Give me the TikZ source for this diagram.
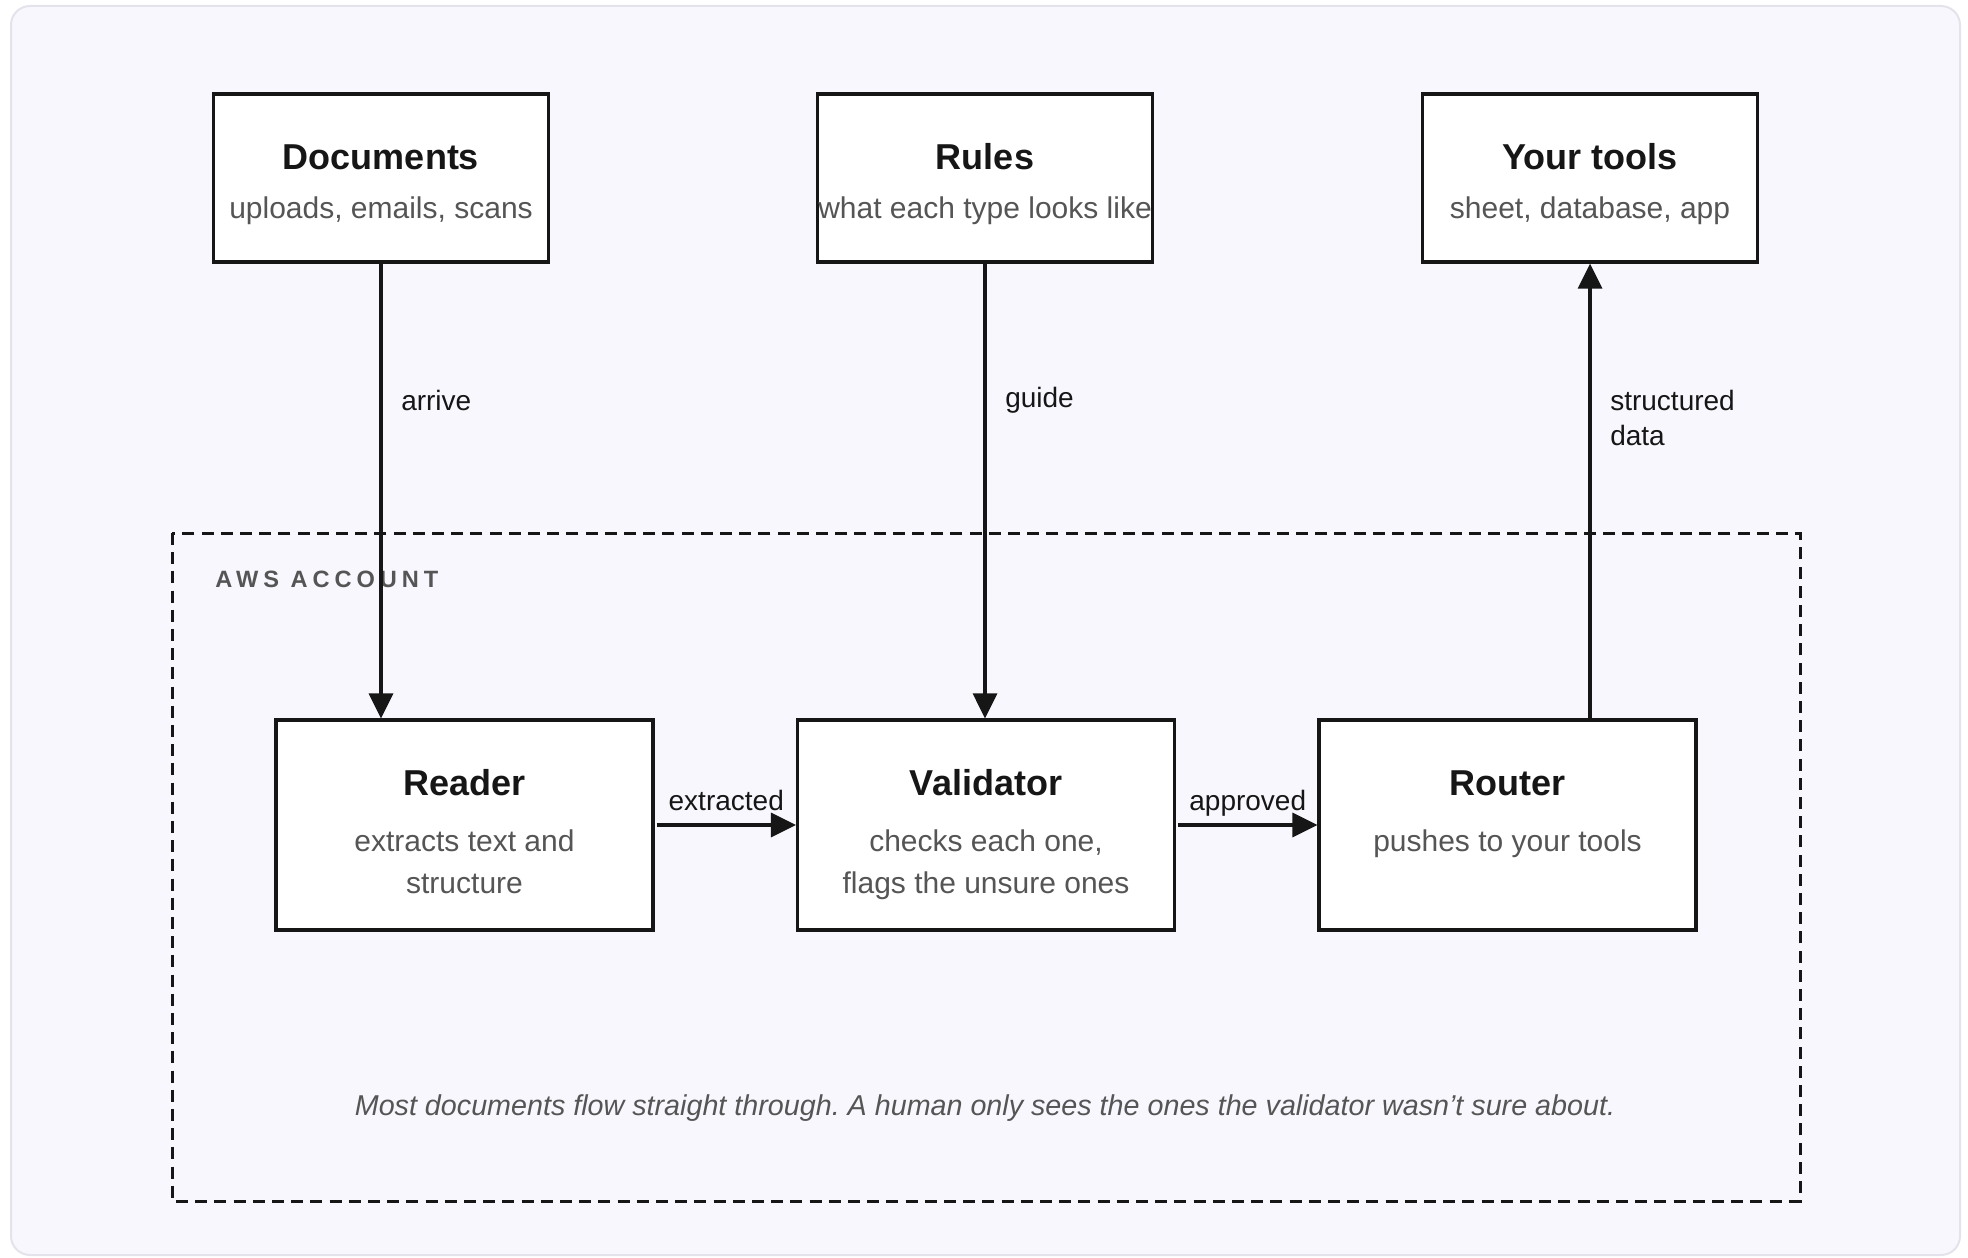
\documentclass[tikz,border=0pt]{standalone}
\usepackage{fontspec}
\setmainfont{Liberation Sans}
\usetikzlibrary{arrows.meta}

\definecolor{panelbg}{HTML}{F8F7FD}
\definecolor{panelrule}{HTML}{E4E3EC}
\definecolor{ink}{HTML}{161616}
\definecolor{subgray}{HTML}{555555}

% title, subtitle lines, gap under the title, strut height of the title line
\newcommand{\cardtext}[4]{{\color{ink}\fontsize{18}{22}\selectfont\bfseries\rule{0pt}{#4}#1}\\[#3]#2\rule[-3.5pt]{0pt}{3.5pt}}

\tikzset{
  card/.style={draw=ink, line width=1.6pt, fill=white, align=center, inner sep=0pt,
    text=subgray, font=\fontsize{15}{21}\selectfont,
    minimum width=167.5pt, minimum height=84pt},
  stage/.style={card, minimum width=188.5pt, minimum height=105pt},
  flow/.style={draw=ink, line width=1.6pt, -{Triangle[length=12.5pt,width=12pt]}},
  elbl/.style={text=ink, font=\fontsize{14}{17.5}\selectfont},
  acct/.style={draw=ink, line width=1.5pt, dash pattern=on 6pt off 3.6pt},
}

\begin{document}
\begin{tikzpicture}[x=0.5pt, y=-0.5pt]
  \useasboundingbox (0,0) rectangle (1968,1257);
  \draw[draw=panelrule, fill=panelbg, line width=1pt, rounded corners=9.5pt] (11,6) rectangle (1960,1255);

  % account frame
  \draw[acct] (172,533) rectangle (1800,1201);
  \node[anchor=west, inner sep=0pt, text=subgray, font=\fontsize{11.8}{13}\selectfont\bfseries\addfontfeatures{LetterSpace=21}] (awslbl) at (215,579) {AWS ACCOUNT};

  % outside
  \node[card] (docs) at (381,178) {\cardtext{Documents}{uploads, emails, scans}{3.5pt}{19.4pt}};
  \node[card] (rules) at (985,178) {\cardtext{Rules}{what each type looks like}{3.5pt}{19.4pt}};
  \node[card] (tools) at (1590,178) {\cardtext{Your tools}{sheet, database, app}{3.5pt}{19.4pt}};

  % inside the account
  \node[stage] (reader) at (464.5,825) {\cardtext{Reader}{extracts text and\\structure}{7pt}{22.9pt}};
  \node[stage] (validator) at (986,825) {\cardtext{Validator}{checks each one,\\flags the unsure ones}{7pt}{22.9pt}};
  \node[stage] (router) at (1507.5,825) {\cardtext{Router}{pushes to your tools\\\phantom{x}}{7pt}{22.9pt}};

  \draw[flow] (docs.south) -- node[elbl, right, pos=0.3, xshift=6pt] (arrivelbl) {arrive} (docs.south |- reader.north);
  \draw[flow] (rules.south) -- node[elbl, right, pos=0.3, xshift=6pt] (guidelbl) {guide} (rules.south |- validator.north);
  \draw[flow] (router.north -| tools.south) -- node[elbl, right, pos=0.66, xshift=6pt, align=left] (datalbl) {structured\\data} (tools.south);
  \draw[flow] ([xshift=1pt]reader.east) -- node[elbl, above, text depth=0pt, yshift=3.2pt] (extrlbl) {extracted} (validator);
  \draw[flow] ([xshift=1pt]validator.east) -- node[elbl, above, text depth=0pt, yshift=3.2pt] (applbl) {approved} (router);

  \node[text=subgray, font=\fontsize{14.35}{17}\selectfont\itshape\frenchspacing] (note) at (985,1108) {Most documents flow straight through. A human only sees the ones the validator wasn’t sure about.};
\end{tikzpicture}
\end{document}
